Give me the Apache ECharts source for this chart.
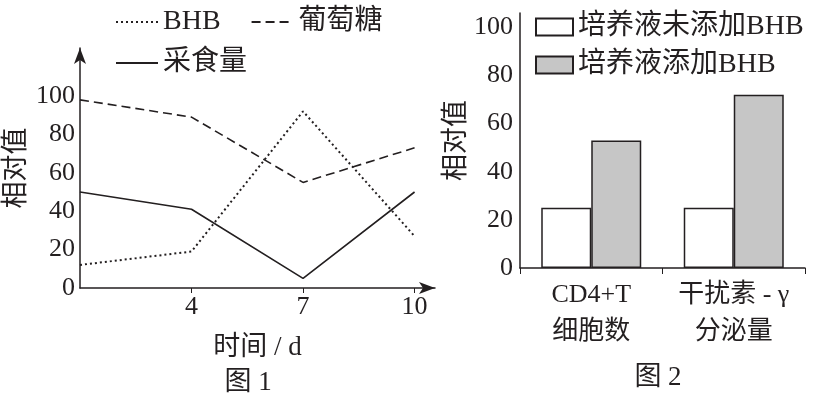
<!DOCTYPE html>
<html><head><meta charset="utf-8">
<script src="https://cdn.jsdelivr.net/npm/echarts@6/dist/echarts.min.js"></script>
<style>html,body{margin:0;padding:0;background:#fff}#c{width:818px;height:393px}</style>
</head><body><div id="c"></div>
<script>
// ---- Figure 1 data ----
const days = [1, 4, 7, 10];
const dayTicks = [4, 7, 10];
const bhb = [12, 19, 92, 27];
const glucose = [98, 89, 55, 73];
const feeding = [50, 41, 5, 50];
const yTicks = [0, 20, 40, 60, 80, 100];
// ---- Figure 2 data ----
const barCats = ['CD4+T\n细胞数', '干扰素 - γ\n分泌量'];
const noBHB = [25, 25];
const withBHB = [53, 72];

const FONT = "'Liberation Serif','Noto Sans CJK SC',serif";
const INK = '#231f20';
const pairs = v => days.map((d, i) => [d, v[i]]);

const chart = echarts.init(document.getElementById('c'), null, {renderer: 'canvas'});
const lineBase = {type: 'line', xAxisIndex: 0, yAxisIndex: 0, symbol: 'none', smooth: false, silent: true};
chart.setOption({
  animation: false,
  backgroundColor: '#fff',
  textStyle: {fontFamily: FONT, color: INK},
  title: [
    {text: '图 1', left: 243, top: 378, textAlign: 'center', textVerticalAlign: 'middle',
     textStyle: {fontFamily: FONT, fontSize: 27, fontWeight: 'normal', color: INK}},
    {text: '图 2', left: 653, top: 373, textAlign: 'center', textVerticalAlign: 'middle',
     textStyle: {fontFamily: FONT, fontSize: 27, fontWeight: 'normal', color: INK}}
  ],
  legend: [
    {data: ['BHB', '葡萄糖'], left: 110, top: 3, itemWidth: 42, itemHeight: 14, itemGap: 30,
     itemStyle: {opacity: 0},
     textStyle: {fontFamily: FONT, fontSize: 28, color: INK}},
    {data: ['采食量'], left: 110, top: 44, itemWidth: 42, itemHeight: 14,
     itemStyle: {opacity: 0},
     textStyle: {fontFamily: FONT, fontSize: 28, color: INK}},
    {data: ['培养液未添加BHB', '培养液添加BHB'], orient: 'vertical', left: 530, top: 8,
     itemWidth: 37, itemHeight: 17, itemGap: 10, icon: 'rect',
     textStyle: {fontFamily: FONT, fontSize: 28, color: INK}}
  ],
  grid: [
    {left: 80, right: 383, top: 48, bottom: 105, outerBoundsMode: 'none', containLabel: false},
    {left: 520, right: 13, top: 13, bottom: 125, outerBoundsMode: 'none', containLabel: false}
  ],
  xAxis: [
    {type: 'value', gridIndex: 0, min: 1, max: 10.55,
     name: '时间 / d', nameLocation: 'middle', nameGap: 46,
     nameTextStyle: {fontFamily: FONT, fontSize: 27, color: INK},
     axisLine: {lineStyle: {color: INK, width: 1.5}, symbol: ['none', 'arrow'], symbolSize: [9, 16]},
     axisTick: {show: true, customValues: dayTicks, length: 5, lineStyle: {color: INK}},
     axisLabel: {customValues: dayTicks, fontFamily: FONT, fontSize: 26, color: INK, margin: 6},
     splitLine: {show: false}},
    {type: 'category', gridIndex: 1, data: barCats,
     axisLine: {lineStyle: {color: INK, width: 1.5}},
     axisTick: {show: true, length: 6, lineStyle: {color: INK}},
     axisLabel: {interval: 0, hideOverlap: false, fontFamily: FONT, fontSize: 26, color: INK, margin: 9, lineHeight: 37}}
  ],
  yAxis: [
    {type: 'value', gridIndex: 0, min: 0, max: 125,
     name: '相对值', nameLocation: 'middle', nameGap: 50, nameRotate: 90,
     nameTextStyle: {fontFamily: FONT, fontSize: 27, color: INK},
     axisLine: {show: true, lineStyle: {color: INK, width: 1.5}, symbol: ['none', 'arrow'], symbolSize: [9, 16]},
     axisTick: {show: false},
     axisLabel: {customValues: yTicks, fontFamily: FONT, fontSize: 26, color: INK, margin: 5},
     splitLine: {show: false}},
    {type: 'value', gridIndex: 1, min: 0, max: 106,
     name: '相对值', nameLocation: 'middle', nameGap: 50, nameRotate: 90,
     nameTextStyle: {fontFamily: FONT, fontSize: 27, color: INK},
     axisLine: {show: true, lineStyle: {color: INK, width: 1.5}},
     axisTick: {show: false},
     axisLabel: {customValues: yTicks, fontFamily: FONT, fontSize: 26, color: INK, margin: 7},
     splitLine: {show: false}}
  ],
  series: [
    Object.assign({}, lineBase, {name: 'BHB', data: pairs(bhb),
      lineStyle: {color: INK, width: 2, type: [2, 3]}, itemStyle: {color: INK}}),
    Object.assign({}, lineBase, {name: '葡萄糖', data: pairs(glucose),
      lineStyle: {color: INK, width: 1.6, type: [9, 5]}, itemStyle: {color: INK}}),
    Object.assign({}, lineBase, {name: '采食量', data: pairs(feeding),
      lineStyle: {color: INK, width: 1.6, type: 'solid'}, itemStyle: {color: INK}}),
    {type: 'bar', name: '培养液未添加BHB', xAxisIndex: 1, yAxisIndex: 1, data: noBHB,
     barWidth: 50, barGap: '0%', silent: true,
     itemStyle: {color: '#ffffff', borderColor: INK, borderWidth: 1.5}},
    {type: 'bar', name: '培养液添加BHB', xAxisIndex: 1, yAxisIndex: 1, data: withBHB,
     barWidth: 50, barGap: '0%', silent: true,
     itemStyle: {color: '#c6c6c6', borderColor: INK, borderWidth: 1.5}}
  ]
});
</script></body></html>
